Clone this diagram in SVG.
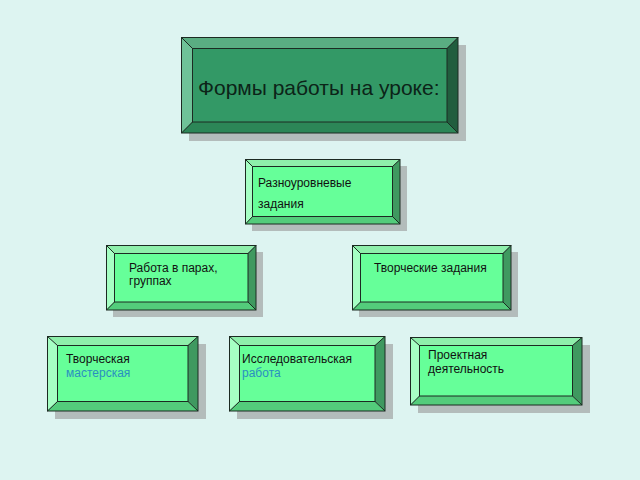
<svg xmlns="http://www.w3.org/2000/svg" width="640" height="480" viewBox="0 0 640 480">
<style>
.bg{fill:#ddf4f1}
.sh{fill:#b3bcbb}
.ol{fill:none;stroke:#1c2a22;stroke-width:1}
.ln{stroke:#1c2a22;stroke-width:1}
.lf{fill:#66ff99}.lt{fill:#8eefab}.ll{fill:#a6ffc4}.lr{fill:#3f9960}.lb{fill:#53cc7b}
.df{fill:#339966}.dt{fill:#5aad82}.dl{fill:#6fc298}.dr{fill:#215d3e}.db{fill:#2c8657}
text{font-family:"Liberation Sans",Arial,sans-serif;fill:#111;font-size:12px}
.big{font-size:21px;fill:#0c2418}
.blue{fill:#2a8fc0}
</style>
<rect class="bg" x="0" y="0" width="640" height="480"/>

<g id="title">
<rect class="sh" x="189" y="45" width="277" height="96"/>
<polygon class="dt" points="181,37 458,37 447,48 192,48"/>
<polygon class="dl" points="181,37 192,48 192,122 181,133"/>
<polygon class="dr" points="458,37 458,133 447,122 447,48"/>
<polygon class="db" points="181,133 192,122 447,122 458,133"/>
<rect class="df" x="192" y="48" width="255" height="74"/>
<rect class="ol" x="181.5" y="37.5" width="276.5" height="95.5"/>
<rect class="ol" x="192.5" y="48.5" width="254.5" height="73.5"/>
<path class="ln" d="M181.5,37.5L192.5,48.5M458,37.5L447,48.5M181.5,133L192.5,122M458,133L447,122"/>
<text class="big" x="198" y="95">Формы работы на уроке:</text>
</g>

<g id="node-raznourovnevye">
<rect class="sh" x="252" y="166" width="155" height="65"/>
<polygon class="lt" points="245,159 400,159 392.5,166.5 252.5,166.5"/>
<polygon class="ll" points="245,159 252.5,166.5 252.5,216.5 245,224"/>
<polygon class="lr" points="400,159 400,224 392.5,216.5 392.5,166.5"/>
<polygon class="lb" points="245,224 252.5,216.5 392.5,216.5 400,224"/>
<rect class="lf" x="252.5" y="166.5" width="140" height="50"/>
<rect class="ol" x="245.5" y="159.5" width="154.5" height="64.5"/>
<rect class="ol" x="252.5" y="166.5" width="140" height="50"/>
<path class="ln" d="M245.5,159.5L252.5,166.5M400,159.5L392.5,166.5M245.5,224L252.5,216.5M400,224L392.5,216.5"/>
<text x="258" y="187">Разноуровневые</text>
<text x="258" y="208">задания</text>
</g>

<g id="node-pary">
<rect class="sh" x="113" y="252" width="150" height="65"/>
<polygon class="lt" points="106,245 256,245 248,253 114,253"/>
<polygon class="ll" points="106,245 114,253 114,302 106,310"/>
<polygon class="lr" points="256,245 256,310 248,302 248,253"/>
<polygon class="lb" points="106,310 114,302 248,302 256,310"/>
<rect class="lf" x="114" y="253" width="134" height="49"/>
<rect class="ol" x="106.5" y="245.5" width="149.5" height="64.5"/>
<rect class="ol" x="114.5" y="253.5" width="133.5" height="48.5"/>
<path class="ln" d="M106.5,245.5L114.5,253.5M256,245.5L248,253.5M106.5,310L114.5,302M256,310L248,302"/>
<text x="129" y="272">Работа в парах,</text>
<text x="129" y="285">группах</text>
</g>

<g id="node-tvorcheskie-zadaniya">
<rect class="sh" x="359" y="252" width="159" height="65"/>
<polygon class="lt" points="352,245 511,245 503,253 360,253"/>
<polygon class="ll" points="352,245 360,253 360,302 352,310"/>
<polygon class="lr" points="511,245 511,310 503,302 503,253"/>
<polygon class="lb" points="352,310 360,302 503,302 511,310"/>
<rect class="lf" x="360" y="253" width="143" height="49"/>
<rect class="ol" x="352.5" y="245.5" width="158.5" height="64.5"/>
<rect class="ol" x="360.5" y="253.5" width="142.5" height="48.5"/>
<path class="ln" d="M352.5,245.5L360.5,253.5M511,245.5L503,253.5M352.5,310L360.5,302M511,310L503,302"/>
<text x="374" y="272">Творческие задания</text>
</g>

<g id="node-masterskaya">
<rect class="sh" x="55" y="344" width="151" height="75"/>
<polygon class="lt" points="47,336 198,336 188,345.5 57,345.5"/>
<polygon class="ll" points="47,336 57,345.5 57,401.5 47,411"/>
<polygon class="lr" points="198,336 198,411 188,401.5 188,345.5"/>
<polygon class="lb" points="47,411 57,401.5 188,401.5 198,411"/>
<rect class="lf" x="57" y="345.5" width="131" height="56"/>
<rect class="ol" x="47.5" y="336.5" width="150.5" height="74.5"/>
<rect class="ol" x="57.5" y="345.5" width="130.5" height="56"/>
<path class="ln" d="M47.5,336.5L57.5,345.5M198,336.5L188,345.5M47.5,411L57.5,401.5M198,411L188,401.5"/>
<text x="66" y="363">Творческая</text>
<text class="blue" x="66" y="377">мастерская</text>
</g>

<g id="node-issledovatelskaya">
<rect class="sh" x="237" y="344" width="156" height="75"/>
<polygon class="lt" points="229,336 385,336 375,345.5 239,345.5"/>
<polygon class="ll" points="229,336 239,345.5 239,401.5 229,411"/>
<polygon class="lr" points="385,336 385,411 375,401.5 375,345.5"/>
<polygon class="lb" points="229,411 239,401.5 375,401.5 385,411"/>
<rect class="lf" x="239" y="345.5" width="136" height="56"/>
<rect class="ol" x="229.5" y="336.5" width="155.5" height="74.5"/>
<rect class="ol" x="239.5" y="345.5" width="135.5" height="56"/>
<path class="ln" d="M229.5,336.5L239.5,345.5M385,336.5L375,345.5M229.5,411L239.5,401.5M385,411L375,401.5"/>
<text x="242" y="363">Исследовательская</text>
<text class="blue" x="242" y="377">работа</text>
</g>

<g id="node-proektnaya">
<rect class="sh" x="418" y="345" width="172" height="68"/>
<polygon class="lt" points="410,337 582,337 572.5,345.5 419.5,345.5"/>
<polygon class="ll" points="410,337 419.5,345.5 419.5,396 410,405"/>
<polygon class="lr" points="582,337 582,405 572.5,396 572.5,345.5"/>
<polygon class="lb" points="410,405 419.5,396 572.5,396 582,405"/>
<rect class="lf" x="419.5" y="345.5" width="153" height="50.5"/>
<rect class="ol" x="410.5" y="337.5" width="171.5" height="67.5"/>
<rect class="ol" x="419.5" y="345.5" width="153" height="50.5"/>
<path class="ln" d="M410.5,337.5L419.5,345.5M582,337.5L572.5,345.5M410.5,405L419.5,396M582,405L572.5,396"/>
<text x="428" y="359">Проектная</text>
<text x="428" y="373">деятельность</text>
</g>
</svg>
